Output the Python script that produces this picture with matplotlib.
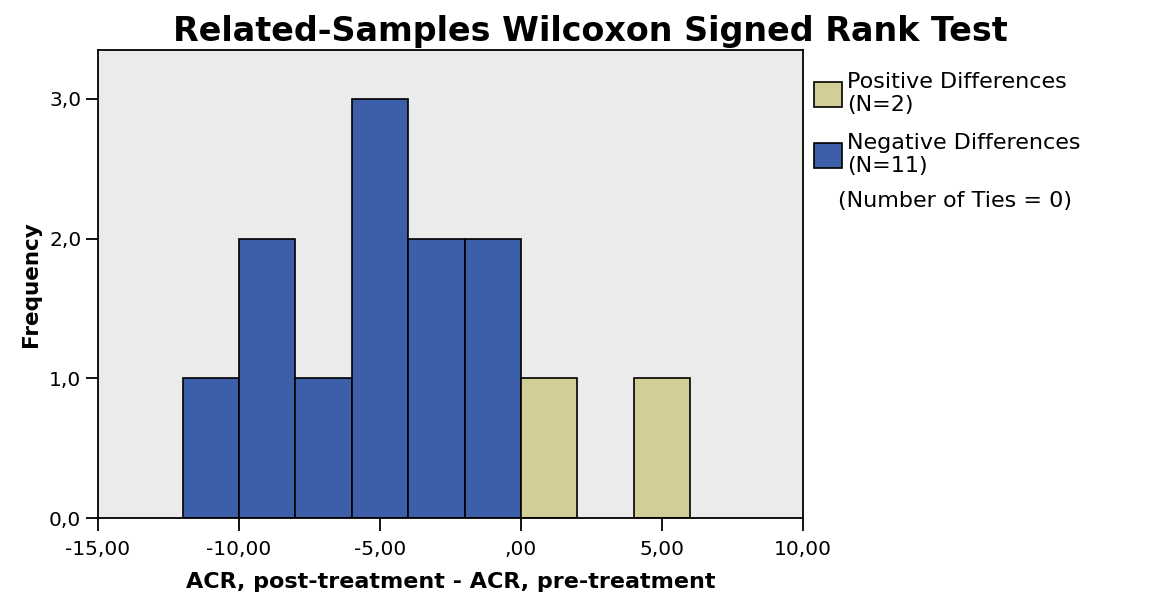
import matplotlib.pyplot as plt
import matplotlib.patches as mpatches
import numpy as np

# histogram bins (left edge), bin width 2
neg_edges = [-12, -10, -8, -6, -4, -2]
neg_counts = [1, 2, 1, 3, 2, 2]
pos_edges = [0, 2, 4]
pos_counts = [1, 0, 1]
bin_width = 2

xticks = [-15, -10, -5, 0, 5, 10]
xticklabels = ['-15,00', '-10,00', '-5,00', ',00', '5,00', '10,00']
yticks = [0, 1, 2, 3]
yticklabels = ['0,0', '1,0', '2,0', '3,0']

blue = '#3d5ea8'
tan = '#d3cd98'

fig = plt.figure(figsize=(11.51, 5.99), dpi=100)
ax = fig.add_axes([0.0851, 0.1352, 0.6126, 0.7813])
ax.set_facecolor('#ebebeb')

ax.bar(neg_edges, neg_counts, width=bin_width, align='edge',
       color=blue, edgecolor='black', linewidth=1.2)
pe = [e for e, c in zip(pos_edges, pos_counts) if c > 0]
pc = [c for c in pos_counts if c > 0]
ax.bar(pe, pc, width=bin_width, align='edge',
       color=tan, edgecolor='black', linewidth=1.2)

ax.set_xlim(-15, 10)
ax.set_ylim(0, 3.35)
ax.set_xticks(xticks)
ax.set_xticklabels(xticklabels)
ax.set_yticks(yticks)
ax.set_yticklabels(yticklabels)
ax.tick_params(direction='out', length=9, width=1.3, labelsize=14.5, pad=3)
ax.tick_params(axis='x', pad=7)
for s in ax.spines.values():
    s.set_linewidth(1.3)

ax.set_xlabel('ACR, post-treatment - ACR, pre-treatment', fontsize=16,
              fontweight='bold', labelpad=9)
ax.set_ylabel('Frequency', fontsize=15.5, fontweight='bold', labelpad=6)
fig.text(0.513, 0.948, 'Related-Samples Wilcoxon Signed Rank Test',
         ha='center', va='center', fontsize=24, fontweight='bold')

handles = [mpatches.Patch(facecolor=tan, edgecolor='black', linewidth=1.2),
           mpatches.Patch(facecolor=blue, edgecolor='black', linewidth=1.2)]
labels = ['Positive Differences\n(N=2)', 'Negative Differences\n(N=11)']
leg = fig.legend(handles, labels, loc='upper left', bbox_to_anchor=(0.707, 0.88),
                 frameon=False, fontsize=16, handlelength=1.25, handleheight=1.35,
                 handletextpad=0.25, labelspacing=0.8, borderaxespad=0,
                 borderpad=0)
for t in leg.get_texts():
    t.set_linespacing(1.2)
fig.text(0.728, 0.665, '(Number of Ties = 0)', fontsize=16, va='center')

fig.savefig('out.png', dpi=100)
